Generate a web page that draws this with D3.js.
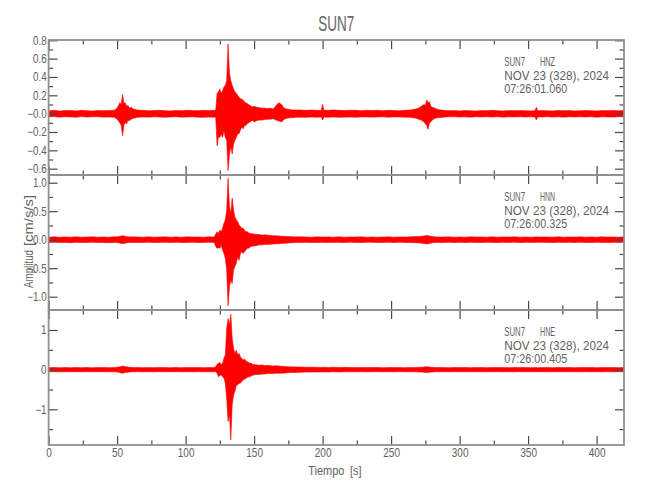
<!DOCTYPE html>
<html>
<head>
<meta charset="utf-8">
<script src="https://cdn.jsdelivr.net/npm/d3@7"></script>
<style>
  html, body { margin: 0; padding: 0; background: #fff; }
  svg { display: block; }
</style>
</head>
<body>
<svg id="chart" width="650" height="500"></svg>
<script>
// ---------------- DATA ----------------
const title = "SUN7";
const xLabelMain = "Tiempo";
const xLabelUnit = "[s]";
const yLabelMain = "Amplitud";
const yLabelUnit = "[cm/s/s]";

const channels = ["HNZ", "HNN", "HNE"];
const stationName = "SUN7";
const dateText = "NOV 23 (328), 2024";
const startTimes = ["07:26:01.060", "07:26:00.325", "07:26:00.405"];

// sample times (s) of the envelope readings
const times = [
  0,4,8,12,16,20,24,28,32,36,40,44,48,
  50,51,52,53,54,55,56,57,58,59,60,62,
  65,69,73,77,81,85,89,93,97,101,105,109,113,117,120,
  121,122,123,124,125,126,127,128,129,130,131,132,133,134,135,136,137,138,139,140,141,142,143,144,145,146,147,148,149,150,
  152,154,156,158,160,162,164,166,168,170,172,174,176,178,180,
  184,188,192,196,199,200,201,204,208,212,216,220,224,228,232,236,240,244,248,252,256,260,264,268,
  270,272,274,275,276,277,278,279,280,282,284,
  288,292,296,300,304,308,312,316,320,324,328,332,336,340,344,348,352,355,356,357,360,364,368,372,376,380,384,388,392,396,400,404,408,412,416,420
];

// HNZ envelope (upper / lower), cm/s/s
const hnzMax = [
  0.032,0.036,0.028,0.033,0.035,0.030,0.036,0.032,0.029,0.035,0.032,0.034,0.038,
  0.06,0.09,0.12,0.10,0.21,0.11,0.12,0.08,0.09,0.06,0.07,0.05,
  0.040,0.036,0.032,0.034,0.036,0.032,0.030,0.035,0.032,0.037,0.034,0.032,0.036,0.034,0.036,
  0.036,0.04,0.22,0.24,0.27,0.22,0.25,0.29,0.31,0.36,0.76,0.44,0.36,0.31,0.27,0.24,0.22,0.20,0.18,0.16,0.16,0.145,0.13,0.115,0.11,0.10,0.09,0.08,0.075,0.08,
  0.07,0.065,0.06,0.06,0.055,0.06,0.05,0.09,0.12,0.10,0.06,0.05,0.045,0.04,0.04,
  0.040,0.036,0.040,0.036,0.036,0.10,0.036,0.036,0.040,0.036,0.034,0.038,0.036,0.032,0.036,0.034,0.036,0.032,0.036,0.034,0.032,0.036,0.040,0.050,
  0.06,0.08,0.10,0.09,0.15,0.12,0.13,0.08,0.07,0.06,0.045,
  0.036,0.032,0.034,0.030,0.035,0.032,0.029,0.034,0.032,0.036,0.032,0.030,0.034,0.032,0.035,0.032,0.030,0.032,0.070,0.032,0.034,0.032,0.030,0.035,0.032,0.034,0.030,0.032,0.035,0.032,0.030,0.034,0.032,0.035,0.032,0.034
];
const hnzMin = [
  -0.036,-0.032,-0.038,-0.034,-0.036,-0.040,-0.032,-0.037,-0.035,-0.034,-0.038,-0.036,-0.040,
  -0.06,-0.08,-0.10,-0.13,-0.24,-0.12,-0.10,-0.11,-0.07,-0.08,-0.06,-0.05,
  -0.040,-0.036,-0.038,-0.035,-0.037,-0.040,-0.036,-0.034,-0.038,-0.037,-0.035,-0.038,-0.040,-0.037,-0.038,
  -0.04,-0.04,-0.35,-0.25,-0.26,-0.22,-0.26,-0.18,-0.26,-0.29,-0.62,-0.44,-0.36,-0.44,-0.33,-0.29,-0.26,-0.22,-0.22,-0.18,-0.145,-0.165,-0.13,-0.13,-0.11,-0.10,-0.09,-0.08,-0.075,-0.09,
  -0.075,-0.07,-0.07,-0.065,-0.06,-0.06,-0.055,-0.07,-0.08,-0.09,-0.06,-0.05,-0.045,-0.045,-0.04,
  -0.040,-0.040,-0.036,-0.040,-0.036,-0.070,-0.036,-0.040,-0.036,-0.040,-0.038,-0.036,-0.040,-0.036,-0.036,-0.038,-0.036,-0.034,-0.040,-0.036,-0.036,-0.038,-0.040,-0.050,
  -0.06,-0.07,-0.09,-0.11,-0.13,-0.17,-0.10,-0.09,-0.07,-0.05,-0.045,
  -0.038,-0.035,-0.034,-0.037,-0.035,-0.038,-0.034,-0.036,-0.035,-0.037,-0.034,-0.038,-0.035,-0.036,-0.034,-0.037,-0.035,-0.036,-0.070,-0.036,-0.036,-0.034,-0.037,-0.035,-0.038,-0.034,-0.036,-0.035,-0.037,-0.034,-0.038,-0.035,-0.036,-0.037,-0.034,-0.035
];

// HNN envelope
const hnnMax = [
  0.045,0.05,0.042,0.048,0.045,0.05,0.044,0.046,0.05,0.045,0.048,0.044,0.05,
  0.05,0.055,0.06,0.065,0.07,0.065,0.06,0.055,0.05,0.05,0.048,0.05,
  0.048,0.045,0.05,0.044,0.046,0.05,0.045,0.048,0.044,0.05,0.046,0.048,0.045,0.05,0.048,
  0.05,0.10,0.14,0.11,0.17,0.14,0.20,0.29,0.35,0.52,1.08,0.58,0.46,0.73,0.52,0.40,0.35,0.32,0.26,0.23,0.20,0.20,0.17,0.14,0.14,0.12,0.11,0.11,0.10,0.10,
  0.09,0.09,0.08,0.085,0.08,0.075,0.07,0.07,0.065,0.06,0.06,0.055,0.055,0.05,0.05,
  0.05,0.048,0.045,0.05,0.047,0.046,0.048,0.048,0.045,0.05,0.044,0.048,0.046,0.05,0.045,0.048,0.044,0.046,0.05,0.045,0.048,0.046,0.05,0.055,
  0.055,0.06,0.065,0.07,0.075,0.07,0.065,0.06,0.055,0.05,0.048,
  0.046,0.05,0.045,0.048,0.044,0.05,0.046,0.048,0.045,0.05,0.044,0.048,0.046,0.05,0.045,0.048,0.044,0.046,0.05,0.047,0.046,0.048,0.045,0.05,0.044,0.048,0.046,0.05,0.045,0.048,0.044,0.05,0.046,0.048,0.045,0.05
];
const hnnMin = [
  -0.05,-0.045,-0.05,-0.048,-0.052,-0.046,-0.05,-0.048,-0.045,-0.05,-0.048,-0.052,-0.05,
  -0.05,-0.055,-0.06,-0.065,-0.07,-0.065,-0.06,-0.055,-0.052,-0.05,-0.05,-0.048,
  -0.05,-0.048,-0.045,-0.05,-0.048,-0.046,-0.05,-0.045,-0.05,-0.048,-0.046,-0.05,-0.048,-0.045,-0.05,
  -0.05,-0.12,-0.15,-0.14,-0.15,-0.095,-0.18,-0.24,-0.33,-0.53,-1.16,-0.82,-0.71,-0.77,-0.53,-0.47,-0.41,-0.30,-0.36,-0.24,-0.21,-0.24,-0.21,-0.18,-0.15,-0.15,-0.13,-0.12,-0.11,-0.11,
  -0.10,-0.09,-0.09,-0.08,-0.085,-0.08,-0.075,-0.07,-0.07,-0.065,-0.06,-0.06,-0.055,-0.055,-0.05,
  -0.05,-0.046,-0.05,-0.048,-0.047,-0.045,-0.048,-0.05,-0.048,-0.046,-0.05,-0.045,-0.048,-0.05,-0.046,-0.045,-0.05,-0.048,-0.046,-0.05,-0.045,-0.048,-0.05,-0.055,
  -0.055,-0.06,-0.065,-0.07,-0.075,-0.07,-0.065,-0.06,-0.055,-0.05,-0.05,
  -0.05,-0.046,-0.048,-0.045,-0.05,-0.046,-0.048,-0.05,-0.045,-0.048,-0.05,-0.046,-0.048,-0.045,-0.05,-0.046,-0.048,-0.047,-0.05,-0.046,-0.045,-0.048,-0.05,-0.046,-0.048,-0.045,-0.05,-0.046,-0.048,-0.05,-0.045,-0.048,-0.05,-0.046,-0.048,-0.045
];

// HNE envelope
const hneMax = [
  0.05,0.055,0.048,0.052,0.05,0.056,0.05,0.054,0.048,0.052,0.055,0.05,0.055,
  0.06,0.065,0.07,0.08,0.09,0.085,0.075,0.07,0.065,0.06,0.058,0.055,
  0.055,0.05,0.054,0.05,0.056,0.052,0.05,0.055,0.05,0.054,0.052,0.056,0.05,0.055,0.056,
  0.055,0.08,0.135,0.16,0.18,0.13,0.16,0.29,0.37,1.04,1.29,1.12,1.40,0.79,0.54,0.41,0.49,0.37,0.41,0.32,0.29,0.24,0.27,0.22,0.20,0.18,0.16,0.16,0.13,0.13,
  0.12,0.11,0.12,0.10,0.11,0.10,0.09,0.10,0.09,0.085,0.08,0.075,0.07,0.07,0.065,
  0.065,0.06,0.062,0.058,0.057,0.06,0.058,0.056,0.06,0.055,0.058,0.054,0.056,0.055,0.052,0.056,0.054,0.05,0.055,0.052,0.054,0.05,0.055,0.056,
  0.058,0.06,0.065,0.07,0.075,0.07,0.065,0.06,0.058,0.055,0.052,
  0.055,0.05,0.054,0.052,0.056,0.05,0.055,0.052,0.05,0.056,0.052,0.054,0.05,0.055,0.052,0.056,0.05,0.053,0.054,0.051,0.052,0.055,0.05,0.056,0.052,0.054,0.05,0.055,0.052,0.056,0.05,0.054,0.052,0.055,0.05,0.054
];
const hneMin = [
  -0.055,-0.05,-0.056,-0.05,-0.054,-0.05,-0.056,-0.05,-0.054,-0.05,-0.052,-0.056,-0.055,
  -0.06,-0.065,-0.075,-0.085,-0.09,-0.08,-0.075,-0.07,-0.065,-0.06,-0.058,-0.055,
  -0.05,-0.055,-0.052,-0.056,-0.05,-0.055,-0.052,-0.05,-0.056,-0.052,-0.055,-0.05,-0.056,-0.052,-0.055,
  -0.055,-0.05,-0.09,-0.18,-0.15,-0.13,-0.18,-0.22,-0.34,-0.72,-1.31,-1.14,-1.77,-0.89,-0.64,-0.55,-0.385,-0.385,-0.34,-0.34,-0.30,-0.26,-0.24,-0.22,-0.20,-0.18,-0.18,-0.15,-0.15,-0.13,
  -0.12,-0.12,-0.11,-0.11,-0.10,-0.10,-0.10,-0.09,-0.09,-0.09,-0.085,-0.08,-0.075,-0.07,-0.07,
  -0.065,-0.062,-0.06,-0.06,-0.057,-0.058,-0.059,-0.06,-0.055,-0.058,-0.054,-0.056,-0.055,-0.052,-0.056,-0.054,-0.05,-0.055,-0.052,-0.054,-0.05,-0.055,-0.054,-0.056,
  -0.058,-0.06,-0.065,-0.07,-0.075,-0.07,-0.065,-0.06,-0.058,-0.055,-0.054,
  -0.052,-0.056,-0.05,-0.054,-0.052,-0.055,-0.05,-0.056,-0.052,-0.054,-0.05,-0.055,-0.052,-0.056,-0.05,-0.054,-0.052,-0.053,-0.055,-0.051,-0.05,-0.056,-0.052,-0.054,-0.05,-0.055,-0.052,-0.056,-0.05,-0.054,-0.052,-0.055,-0.05,-0.056,-0.052,-0.054
];

// axis ticks and labels
const xMajorTicks = [0,50,100,150,200,250,300,350,400];
const xMinorTicks = [25,75,125,175,225,275,325,375];
const xTickLabels = ["0","50","100","150","200","250","300","350","400"];

const hnzYTicks = [0.8,0.6,0.4,0.2,0,-0.2,-0.4,-0.6];
const hnzYLabels = ["0.8","0.6","0.4","0.2","\u22120.0","\u22120.2","\u22120.4","\u22120.6"];
const hnzYMinor = [0.7,0.5,0.3,0.1,-0.1,-0.3,-0.5];
const hnnYTicks = [1.0,0.5,0,-0.5,-1.0];
const hnnYLabels = ["1.0","0.5","0.0","\u22120.5","\u22121.0"];
const hnnYMinor = [0.75,0.25,-0.25,-0.75];
const hneYTicks = [1,0,-1];
const hneYLabels = ["1","0","\u22121"];
const hneYMinor = [0.5,-0.5,-1.5];

// y-extent of each panel (cm/s/s)
const hnzRange = [-0.669, 0.803];
const hnnRange = [-1.233, 1.135];
const hneRange = [-1.90, 1.504];

// ---------------- DRAWING ----------------
const svg = d3.select("#chart");
const FONT = "'Liberation Sans', Arial, sans-serif";
const TEXT = "#606060";
const FRAME = "#8f8f8f";
const TICK = "#4a4a4a";

const left = 48.6, right = 624;
const x = d3.scaleLinear().domain([0, 420]).range([left, right]);

const panels = [
  { top: 40, bottom: 175, max: hnzMax, min: hnzMin, yt: hnzYTicks, yl: hnzYLabels, ym: hnzYMinor, dom: hnzRange },
  { top: 175, bottom: 310, max: hnnMax, min: hnnMin, yt: hnnYTicks, yl: hnnYLabels, ym: hnnYMinor, dom: hnnRange },
  { top: 310, bottom: 445, max: hneMax, min: hneMin, yt: hneYTicks, yl: hneYLabels, ym: hneYMinor, dom: hneRange }
];

function squeeze(sel, k) {
  sel.each(function () {
    const t = d3.select(this);
    const xx = +t.attr("x") || 0;
    t.attr("x", 0).attr("transform", `translate(${xx},0) scale(${k},1)`);
  });
}
function styleAxis(g) {
  g.select(".domain").remove();
  g.selectAll(".tick line").attr("stroke", TICK).attr("stroke-width", 1.2);
  g.attr("font-family", FONT).attr("font-size", 12);
  g.selectAll(".tick text").attr("fill", TEXT);
}
function label(parent, s, xx, yy, size, w, anchor) {
  return parent.append("text")
    .attr("x", xx).attr("y", yy)
    .attr("text-anchor", anchor || "start")
    .attr("font-family", FONT).attr("font-size", size)
    .attr("fill", TEXT)
    .attr("textLength", w).attr("lengthAdjust", "spacingAndGlyphs")
    .text(s);
}

panels.forEach((p, i) => {
  const y = d3.scaleLinear().domain(p.dom).range([p.bottom, p.top]);
  const g = svg.append("g");

  // trace (envelope band)
  const data = times.map((t, j) => ({ t, hi: p.max[j], lo: p.min[j] }))
    .filter(d => d.hi !== undefined && d.lo !== undefined);
  const area = d3.area()
    .x(d => x(d.t))
    .y0(d => y(d.lo))
    .y1(d => y(d.hi))
    .curve(d3.curveLinear);
  g.append("path")
    .datum(data)
    .attr("d", area)
    .attr("fill", "#ff0000")
    .attr("stroke", "#ff0000")
    .attr("stroke-width", 0.6)
    .attr("stroke-linejoin", "round");

  // ticks: left
  const lMaj = g.append("g").attr("transform", `translate(${left},0)`)
    .call(d3.axisLeft(y).tickValues(p.yt).tickSize(-9).tickSizeOuter(0).tickPadding(2)
      .tickFormat((d, k) => p.yl[k]));
  styleAxis(lMaj);
  squeeze(lMaj.selectAll(".tick text"), 0.82);
  const lMin = g.append("g").attr("transform", `translate(${left},0)`)
    .call(d3.axisLeft(y).tickValues(p.ym).tickSize(-4.5).tickSizeOuter(0).tickFormat(""));
  styleAxis(lMin);

  // ticks: right
  const rMaj = g.append("g").attr("transform", `translate(${right},0)`)
    .call(d3.axisRight(y).tickValues(p.yt).tickSize(-9).tickSizeOuter(0).tickFormat(""));
  styleAxis(rMaj);
  const rMin = g.append("g").attr("transform", `translate(${right},0)`)
    .call(d3.axisRight(y).tickValues(p.ym).tickSize(-4.5).tickSizeOuter(0).tickFormat(""));
  styleAxis(rMin);

  // ticks: top
  const tMaj = g.append("g").attr("transform", `translate(0,${p.top})`)
    .call(d3.axisTop(x).tickValues(xMajorTicks).tickSize(-9).tickSizeOuter(0).tickFormat(""));
  styleAxis(tMaj);
  const tMin = g.append("g").attr("transform", `translate(0,${p.top})`)
    .call(d3.axisTop(x).tickValues(xMinorTicks).tickSize(-4.5).tickSizeOuter(0).tickFormat(""));
  styleAxis(tMin);

  // ticks: bottom
  const isLast = i === panels.length - 1;
  const bMaj = g.append("g").attr("transform", `translate(0,${p.bottom})`)
    .call(d3.axisBottom(x).tickValues(xMajorTicks).tickSize(-9).tickSizeOuter(0).tickPadding(3)
      .tickFormat((d, k) => isLast ? xTickLabels[k] : ""));
  styleAxis(bMaj);
  bMaj.attr("font-size", 12.5);
  squeeze(bMaj.selectAll(".tick text"), 0.8);
  const bMin = g.append("g").attr("transform", `translate(0,${p.bottom})`)
    .call(d3.axisBottom(x).tickValues(xMinorTicks).tickSize(-4.5).tickSizeOuter(0).tickFormat(""));
  styleAxis(bMin);

  // frame
  g.append("rect")
    .attr("x", left).attr("y", p.top)
    .attr("width", right - left).attr("height", p.bottom - p.top)
    .attr("fill", "none").attr("stroke", FRAME).attr("stroke-width", 1.8);

  // annotation
  label(g, stationName, 504.3, p.top + 26, 13, 20.7);
  label(g, channels[i], 540, p.top + 26, 13, 15);
  label(g, dateText, 504.3, p.top + 39.6, 13, 104.7);
  label(g, startTimes[i], 504.3, p.top + 53.3, 13, 63);
});

// title
svg.append("text")
  .attr("x", (left + right) / 2).attr("y", 30.7)
  .attr("text-anchor", "middle")
  .attr("font-family", FONT).attr("font-size", 22)
  .attr("fill", "#686868")
  .attr("textLength", 36).attr("lengthAdjust", "spacingAndGlyphs")
  .text(title);

// x axis title
label(svg, xLabelMain, 308.3, 474.5, 13, 36);
label(svg, xLabelUnit, 350, 474.5, 13, 11.5);

// y axis title (rotated)
const yt = svg.append("g").attr("transform", "translate(32.5,288) rotate(-90)");
label(yt, yLabelMain, 0, 0, 13, 38);
label(yt, yLabelUnit, 42, 0, 13, 51);
</script>
</body>
</html>
